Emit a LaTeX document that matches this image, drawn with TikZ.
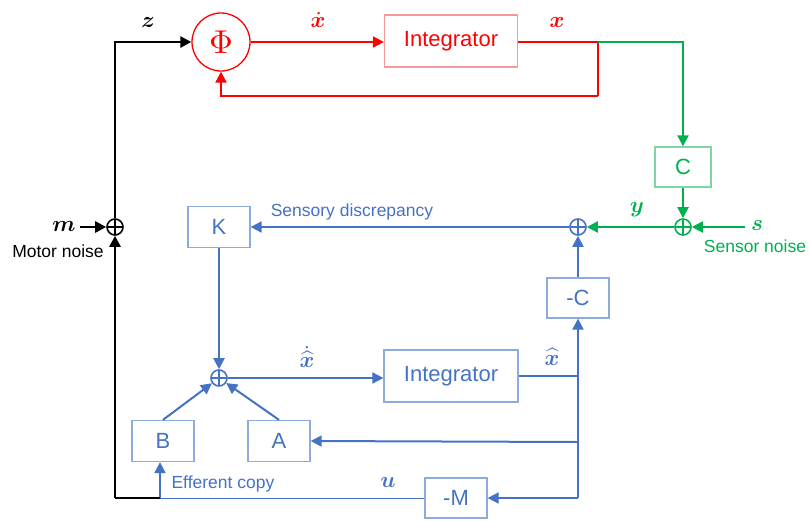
\documentclass[tikz,border=0pt]{standalone}
\usepackage{amsmath,bm}
\usepackage{fontspec}
\setmainfont{Liberation Sans}
\usetikzlibrary{arrows.meta}

\definecolor{sysred}{HTML}{FF0000}
\definecolor{sysredbox}{HTML}{F29A9A}
\definecolor{sysgreen}{HTML}{00B050}
\definecolor{sysgreenbox}{HTML}{7FD6A4}
\definecolor{estblue}{HTML}{4472C4}
\definecolor{estbluebox}{HTML}{8FAADC}

% math labels, set at 10pt and enlarged
\newcommand{\mlab}[1]{\scalebox{2.25}{$#1$}}

\begin{document}
\begin{tikzpicture}[x=1pt,y=-1pt,
  tip/.style={-{Triangle[length=11pt,width=11pt]}},
  redline/.style={draw=sysred,line width=2pt},
  greenline/.style={draw=sysgreen,line width=2pt},
  blueline/.style={draw=estblue,line width=2pt},
  blackline/.style={draw=black,line width=2.6pt},
  blk/.style={draw,line width=1.3pt,minimum width=62pt,minimum height=41pt,inner sep=0pt,
    font=\fontsize{22}{26}\selectfont},
  intbox/.style={blk,minimum width=133pt,minimum height=52pt},
  sumnode/.style={circle,draw,line width=1.6pt,minimum size=16pt,inner sep=0pt,
    path picture={\draw[line width=1.3pt]
      (path picture bounding box.north) -- (path picture bounding box.south)
      (path picture bounding box.west) -- (path picture bounding box.east);}},
  slab/.style={font=\fontsize{17.5}{20}\selectfont},
]
\useasboundingbox (0,0) rectangle (811,520);

% ---- plant (red / green) ----
\node[circle,draw=sysred,line width=1.3pt,minimum size=58pt,inner sep=0pt,text=sysred]
  (phi) at (221,42) {\scalebox{3.3}{$\Phi$}};
\node[intbox,draw=sysredbox,text=sysred] (intR) at (451,41) {Integrator};
\coordinate (split) at (598,42);
\coordinate (fb) at (598,96);
\node[blk,draw=sysgreenbox,text=sysgreen,minimum width=56pt,minimum height=40pt] (C) at (683,167) {C};
\node[sumnode,draw=sysgreen] (sumS) at (683,227) {};
\coordinate (sIn) at (745,227);

\draw[redline,tip] (phi) -- (phi -| intR.west);
\draw[redline] (split -| intR.east) -- (split) -- (fb);
\draw[redline,tip] (fb) -| (phi.south);
\draw[greenline,tip] (split) -| (C.north);
\draw[greenline,tip] (C) -- (sumS);
\draw[greenline,tip] (sIn) -- (sumS);

\node[text=sysred] at (318,20) {\mlab{\dot{\bm{x}}}};
\node[text=sysred] at (557,22) {\mlab{\bm{x}}};
\node[text=sysgreen] at (757,225) {\mlab{\bm{s}}};
\node[slab,text=sysgreen] at (755,246) {Sensor noise};
\node[text=sysgreen] at (637,210) {\mlab{\bm{y}}};

% ---- estimator (blue) ----
\node[sumnode,draw=estblue] (sumB) at (578,227) {};
\node[blk,draw=estbluebox,text=estblue] (K) at (219,227) {K};
\node[sumnode,draw=estblue] (sumL) at (219,378) {};
\node[intbox,draw=estbluebox,text=estblue,minimum width=134pt] (intB) at (451,376) {Integrator};
\node[blk,draw=estbluebox,text=estblue,minimum height=40pt] (negC) at (578,298) {-C};
\node[blk,draw=estbluebox,text=estblue] (A) at (279,441) {A};
\node[blk,draw=estbluebox,text=estblue] (B) at (163,441) {B};
\node[blk,draw=estbluebox,text=estblue,minimum height=40pt] (negM) at (456,498) {-M};
\coordinate (jx) at (578,376);
\coordinate (ja) at (578,442);
\coordinate (jm) at (578,498);
\coordinate (ub) at (160,498);

\draw[greenline,tip] (sumS) -- (sumB);
\draw[blueline,tip] (sumB) -- (K);
\draw[blueline,tip] (K) -- (sumL);
\draw[blueline,tip] (sumL) -- (sumL -| intB.west);
\draw[blueline] (intB.east) -- (jx);
\draw[blueline,tip] (jm) -- (negC.south);
\draw[blueline,tip] (negC) -- (sumB);
\draw[blueline,tip] (ja) -- (A.east);
\draw[blueline,tip] (jm) -- (negM.east);
\draw[blueline,tip] (B.north) -- (sumL);
\draw[blueline,tip] (A.north) -- (sumL);
\draw[draw=estblue,line width=1pt] (negM.west) -- (ub);
\draw[blueline,tip] (ub) -- (ub |- B.south);

\node[slab,text=estblue] at (352,212) {Sensory discrepancy};
\node[text=estblue] at (307,357) {\mlab{\dot{\widehat{\bm{x}}}}};
\node[text=estblue] at (552,357) {\mlab{\widehat{\bm{x}}}};
\node[slab,text=estblue,anchor=west] at (168,484) {Efferent copy};
\node[text=estblue] at (388,482) {\mlab{\bm{u}}};

% ---- motor command path (black) ----
\node[sumnode,draw=black] (sumM) at (115,227) {};
\coordinate (bl) at (115,498);
\coordinate (mIn) at (80,227);
\draw[blackline] (ub) -- (bl);
\draw[blackline,tip] (bl) -- (sumM);
\draw[blackline,tip] (sumM) |- (phi);
\draw[blackline,tip] (mIn) -- (sumM);
\node at (64,226) {\mlab{\bm{m}}};
\node[slab] at (58,251) {Motor noise};
\node at (148,22) {\mlab{\bm{z}}};
\end{tikzpicture}
\end{document}
